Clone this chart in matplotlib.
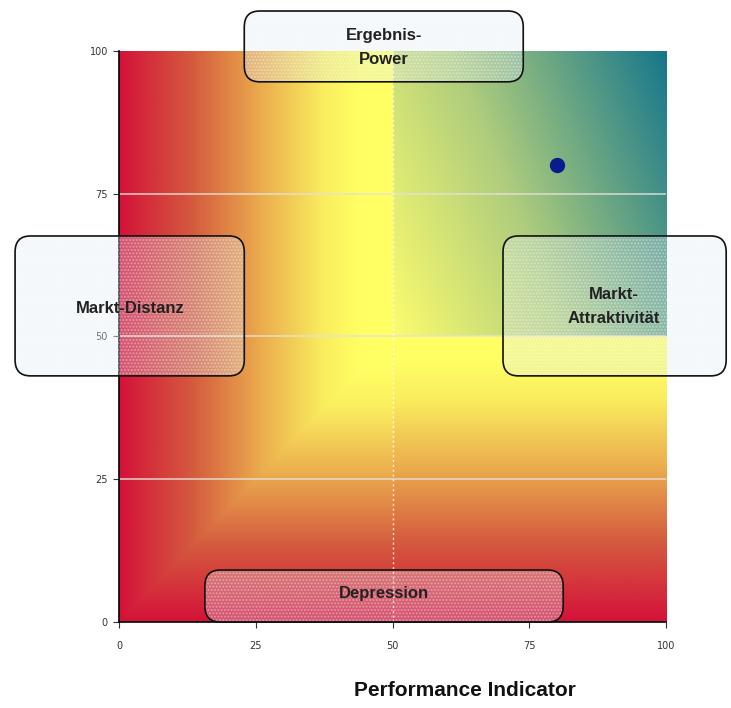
import numpy as np
import matplotlib.pyplot as plt
from matplotlib.colors import LinearSegmentedColormap
from matplotlib.patches import FancyBboxPatch

# data
perf = [80]
market = [80]
ticks = [0, 25, 50, 75, 100]
quadrant_labels = ["Ergebnis-\nPower", "Markt-Distanz", "Markt-\nAttraktivität", "Depression"]

# background colour maps
warm = LinearSegmentedColormap.from_list("warm", [
    (0.0, (212/255, 18/255, 58/255)),
    (0.3, (212/255, 90/255, 62/255)),
    (0.6, (236/255, 175/255, 78/255)),
    (0.85, (250/255, 238/255, 95/255)),
    (1.0, (255/255, 255/255, 100/255)),
])
cool = LinearSegmentedColormap.from_list("cool", [
    (0.0, (252/255, 252/255, 110/255)),
    (0.45, (175/255, 205/255, 125/255)),
    (1.0, (22/255, 118/255, 140/255)),
])

n = 400
gx, gy = np.meshgrid(np.linspace(0, 100, n), np.linspace(0, 100, n))
t_warm = np.clip(np.minimum(gx, gy) / 44.0, 0, 1)
t_warm = np.where(gy > 50, np.clip(gx / 44.0, 0, 1), t_warm)
t_warm = np.where(gx > 50, np.clip(gy / 46.0, 0, 1), t_warm)
img = warm(t_warm)
t_cool = np.clip(0.7 * (gx - 50) / 50 + 0.3 * (gy - 50) / 50, 0, 1)
mask = (gx > 50) & (gy > 50)
img[mask] = cool(t_cool)[mask]

plt.rcParams['hatch.linewidth'] = 1.0

fig = plt.figure(figsize=(7.31, 7.08), dpi=100)
ax = fig.add_axes([0.1628, 0.1215, 0.7483, 0.8065])

ax.imshow(img, extent=[0, 100, 0, 100], origin='lower', aspect='auto', zorder=0)

for yv in [25, 50, 75]:
    ax.axhline(yv, color='#e4e0d8', lw=1.2, alpha=0.85, zorder=1)
ax.axvline(50, color='white', lw=1, ls=(0, (1.5, 2)), alpha=0.8, zorder=1)

ax.plot(perf, market, 'o', color='#0b1a8c', markersize=10, zorder=5)

ax.set_xlim(0, 100)
ax.set_ylim(0, 100)
ax.set_xticks(ticks)
ax.set_yticks(ticks)
ax.tick_params(labelsize=7, colors='#333333', length=4, direction='out', pad=10)
ax.tick_params(axis='y', pad=4)
for s in ['top', 'right']:
    ax.spines[s].set_visible(False)
for s in ['left', 'bottom']:
    ax.spines[s].set_linewidth(1.2)

# quadrant boxes in data units: (x0, y0, x1, y1), text position
boxes = [
    ((22.9, 94.6, 73.9, 107.0), (48.4, 100.6)),
    ((-19.0, 43.1, 22.9, 67.6), (2.0, 54.9)),
    ((70.2, 43.1, 111.0, 67.6), (90.5, 55.3)),
    ((15.7, 0.0, 81.2, 9.1), (48.4, 4.9)),
]

style = "round,pad=0,rounding_size=2.8"
for ((x0, y0, x1, y1), (tx, ty)), lab in zip(boxes, quadrant_labels):
    ax.add_patch(FancyBboxPatch((x0, y0), x1 - x0, y1 - y0, boxstyle=style,
                                facecolor='#dce8f2', edgecolor='none', alpha=0.3,
                                clip_on=False, zorder=3))
    ax.add_patch(FancyBboxPatch((x0, y0), x1 - x0, y1 - y0, boxstyle=style,
                                facecolor='none', edgecolor='white', lw=0,
                                hatch='.....', alpha=0.35,
                                clip_on=False, zorder=3))
    ax.add_patch(FancyBboxPatch((x0, y0), x1 - x0, y1 - y0, boxstyle=style,
                                facecolor='none', edgecolor='#111111', lw=1.2,
                                clip_on=False, zorder=4))
    ax.text(tx, ty, lab, ha='center', va='center', fontsize=12,
            fontweight='bold', family='Liberation Sans', color='#222222',
            linespacing=1.75, zorder=6, clip_on=False)

fig.text(465/731, 1 - 690/708, "Performance Indicator", ha='center', va='center',
         fontsize=15, fontweight='bold', family='Liberation Sans', color='#111111')

fig.savefig("out.png", dpi=100)
